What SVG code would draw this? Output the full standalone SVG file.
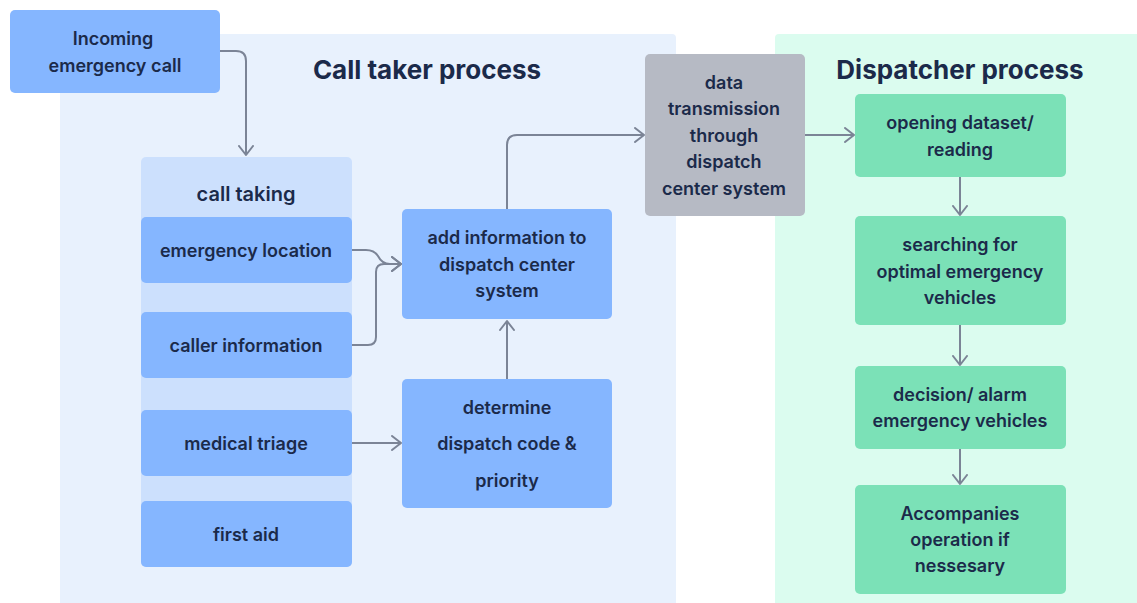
<svg xmlns="http://www.w3.org/2000/svg" width="1137" height="603" viewBox="0 0 1137 603">
<defs>
<marker id="arr" viewBox="0 0 12 16" refX="10" refY="8" markerWidth="12" markerHeight="16" markerUnits="userSpaceOnUse" orient="auto">
<path d="M1,1 L10,8 L1,15" fill="none" stroke="#7b8496" stroke-width="2" stroke-linecap="round" stroke-linejoin="round"/>
</marker>
<style>
text{font-family:Inter,"Noto Sans","Liberation Sans",sans-serif;font-weight:600;fill:#1b2a4a;text-anchor:middle}
.t{font-size:18px}
.h{font-size:26px;font-weight:700}
.blue{fill:#85b6ff}
.green{fill:#7be1b7}
.c{fill:none;stroke:#7b8496;stroke-width:2;marker-end:url(#arr)}
</style>
</defs>
<rect width="1137" height="603" fill="#ffffff"/>
<g id="calltaker-area">
<rect x="60" y="34" width="616" height="580" rx="4" fill="#e8f1fd"/>
<text class="h" x="427" y="79">Call taker process</text>
</g>
<g id="dispatcher-area">
<rect x="775" y="34" width="380" height="580" rx="4" fill="#dbfcef"/>
<text class="h" x="960" y="79">Dispatcher process</text>
</g>
<g id="incoming">
<rect class="blue" x="10" y="10" width="210" height="83" rx="5"/>
<text class="t" x="113" y="45">Incoming</text>
<text class="t" x="115" y="72">emergency call</text>
</g>
<g id="call-taking">
<rect x="141" y="157" width="211" height="410" rx="5" fill="#cce0fd"/>
<text x="246" y="201" style="font-size:20px">call taking</text>
</g>
<g id="emergency-location">
<rect class="blue" x="141" y="217" width="211" height="66" rx="5"/>
<text class="t" x="246" y="257">emergency location</text>
</g>
<g id="caller-information">
<rect class="blue" x="141" y="312" width="211" height="66" rx="5"/>
<text class="t" x="246" y="352">caller information</text>
</g>
<g id="medical-triage">
<rect class="blue" x="141" y="410" width="211" height="66" rx="5"/>
<text class="t" x="246" y="450">medical triage</text>
</g>
<g id="first-aid">
<rect class="blue" x="141" y="501" width="211" height="66" rx="5"/>
<text class="t" x="246" y="541">first aid</text>
</g>
<g id="add-information">
<rect class="blue" x="402" y="209" width="210" height="110" rx="5"/>
<text class="t" x="507" y="244">add information to</text>
<text class="t" x="507" y="271">dispatch center</text>
<text class="t" x="507" y="297">system</text>
</g>
<g id="determine">
<rect class="blue" x="402" y="379" width="210" height="129" rx="5"/>
<text class="t" x="507" y="414">determine</text>
<text class="t" x="507" y="450">dispatch code &amp;</text>
<text class="t" x="507" y="487">priority</text>
</g>
<g id="data-transmission">
<rect x="645" y="54" width="160" height="162" rx="5" fill="#b6bac4"/>
<text class="t" x="724" y="89">data</text>
<text class="t" x="724" y="115">transmission</text>
<text class="t" x="724" y="142">through</text>
<text class="t" x="724" y="168">dispatch</text>
<text class="t" x="724" y="195">center system</text>
</g>
<g id="opening-dataset">
<rect class="green" x="855" y="94" width="211" height="83" rx="5"/>
<text class="t" x="960" y="129">opening dataset/</text>
<text class="t" x="960" y="156">reading</text>
</g>
<g id="searching">
<rect class="green" x="855" y="216" width="211" height="109" rx="5"/>
<text class="t" x="960" y="251">searching for</text>
<text class="t" x="960" y="278">optimal emergency</text>
<text class="t" x="960" y="304">vehicles</text>
</g>
<g id="decision">
<rect class="green" x="855" y="366" width="211" height="83" rx="5"/>
<text class="t" x="960" y="401">decision/ alarm</text>
<text class="t" x="960" y="427">emergency vehicles</text>
</g>
<g id="accompanies">
<rect class="green" x="855" y="485" width="211" height="109" rx="5"/>
<text class="t" x="960" y="520">Accompanies</text>
<text class="t" x="960" y="546">operation if</text>
<text class="t" x="960" y="572">nessesary</text>
</g>
<g id="connectors">
<path class="c" d="M220,51 H236 Q246,51 246,61 V155"/>
<path class="c" d="M352,250 H366 Q374,250 378,256 Q382,264 390,264 H401"/>
<path class="c" d="M352,345 H368 Q376,345 376,337 V272 Q376,264 384,264 H401"/>
<path class="c" d="M352,443 H401"/>
<path class="c" d="M507,379 V321"/>
<path class="c" d="M507,209 V145 Q507,135 517,135 H644"/>
<path class="c" d="M805,135 H854"/>
<path class="c" d="M960,177 V215"/>
<path class="c" d="M960,325 V365"/>
<path class="c" d="M960,449 V484"/>
</g>
</svg>
